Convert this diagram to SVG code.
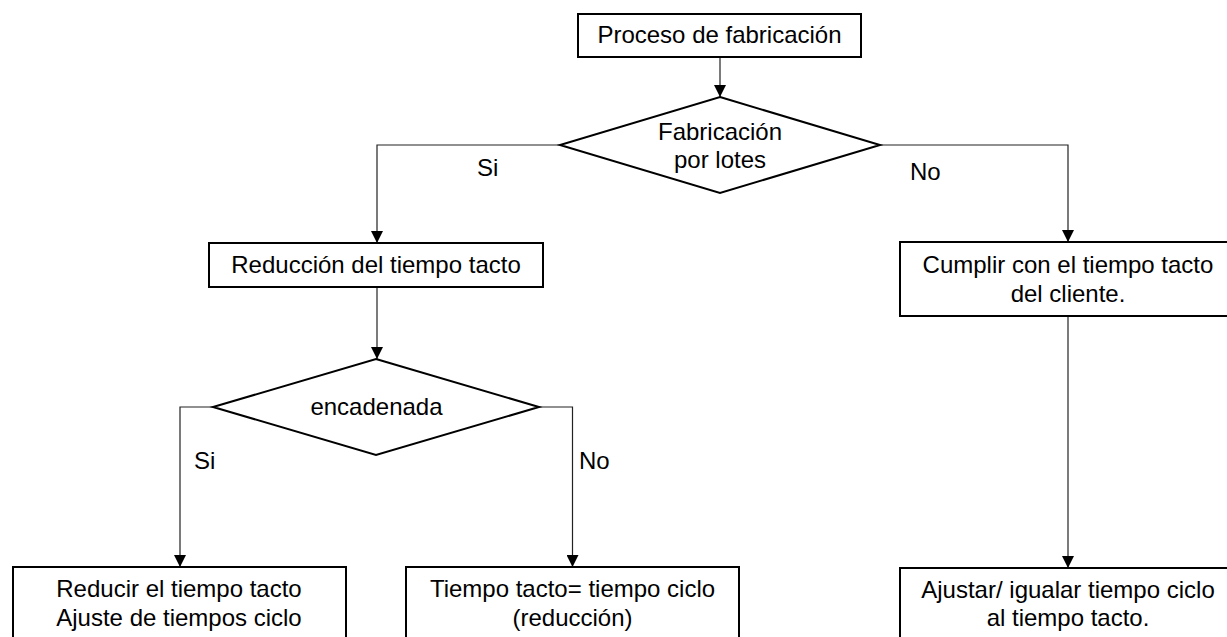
<svg xmlns="http://www.w3.org/2000/svg" width="1227" height="637" viewBox="0 0 1227 637">
<style>
.shape{fill:#fff;stroke:#000;stroke-width:2}
.conn{fill:none;stroke:#222;stroke-width:1.2}
text{font-family:"Liberation Sans",Arial,sans-serif;font-size:24px;fill:#000}
.c{text-anchor:middle}
</style>
<defs>
<marker id="arr" markerUnits="userSpaceOnUse" markerWidth="12" markerHeight="12" refX="12" refY="6" orient="auto">
<path d="M0,0 L12,6 L0,12 z" fill="#000"/>
</marker>
</defs>
<rect width="1227" height="637" fill="#fff"/>
<g id="connectors">
<line class="conn" x1="720" y1="57" x2="720" y2="97" marker-end="url(#arr)"/>
<polyline class="conn" points="560,145 377,145 377,243" marker-end="url(#arr)"/>
<polyline class="conn" points="880,145 1068,145 1068,242" marker-end="url(#arr)"/>
<line class="conn" x1="377" y1="287" x2="377" y2="359" marker-end="url(#arr)"/>
<polyline class="conn" points="213,407 180,407 180,567" marker-end="url(#arr)"/>
<polyline class="conn" points="539,407 572.5,407 572.5,567" marker-end="url(#arr)"/>
<line class="conn" x1="1068" y1="316" x2="1068" y2="568" marker-end="url(#arr)"/>
</g>
<g id="labels">
<text x="477" y="176">Si</text>
<text x="910" y="180">No</text>
<text x="194" y="469">Si</text>
<text x="579" y="469">No</text>
</g>
<g id="n-proceso">
<rect class="shape" x="578" y="14" width="283" height="43"/>
<text class="c" x="719.5" y="43">Proceso de fabricación</text>
</g>
<g id="n-lotes">
<polygon class="shape" points="720,97 880,145 720,193 560,145"/>
<text class="c" x="720" y="140">Fabricación</text>
<text class="c" x="720" y="168">por lotes</text>
</g>
<g id="n-reduccion">
<rect class="shape" x="209" y="243" width="334" height="44"/>
<text class="c" x="376" y="273">Reducción del tiempo tacto</text>
</g>
<g id="n-encadenada">
<polygon class="shape" points="376,359 539,407 376,455 213,407"/>
<text class="c" x="376.5" y="415">encadenada</text>
</g>
<g id="n-cumplir">
<rect class="shape" x="900" y="242" width="336" height="74"/>
<text class="c" x="1068" y="273">Cumplir con el tiempo tacto</text>
<text class="c" x="1068" y="302">del cliente.</text>
</g>
<g id="n-reducir">
<rect class="shape" x="13" y="567" width="333" height="90"/>
<text class="c" x="179" y="597">Reducir el tiempo tacto</text>
<text class="c" x="179" y="626">Ajuste de tiempos ciclo</text>
</g>
<g id="n-igual">
<rect class="shape" x="406" y="567" width="333" height="90"/>
<text class="c" x="572.5" y="597">Tiempo tacto= tiempo ciclo</text>
<text class="c" x="572.5" y="626">(reducción)</text>
</g>
<g id="n-ajustar">
<rect class="shape" x="900" y="568" width="336" height="90"/>
<text class="c" x="1068" y="598">Ajustar/ igualar tiempo ciclo</text>
<text class="c" x="1068" y="626">al tiempo tacto.</text>
</g>
</svg>
